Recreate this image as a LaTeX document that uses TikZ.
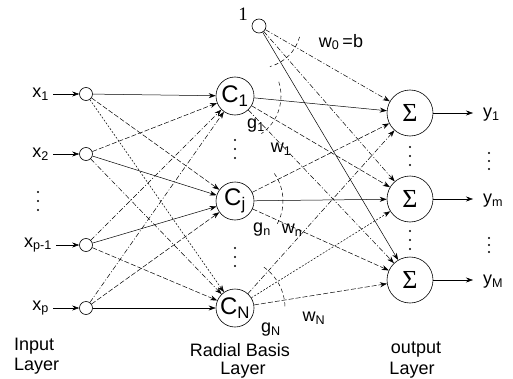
\documentclass[tikz,border=0pt]{standalone}
\usepackage{fontspec}
\setmainfont{Liberation Sans}
\newfontfamily\symfont{Liberation Serif}
\usetikzlibrary{arrows.meta}
\newcommand{\sbs}[1]{\textsubscript{#1}}
\begin{document}
\begin{tikzpicture}[x=1pt,y=1pt,
  font=\fontsize{18}{20}\selectfont,
  inp/.style={circle,draw,line width=0.6pt,inner sep=0pt,minimum size=13pt},
  rbf/.style={circle,draw,line width=0.6pt,inner sep=0pt,minimum size=38pt,font=\fontsize{24}{26}\selectfont},
  outn/.style={circle,draw,line width=0.6pt,inner sep=0pt,minimum size=46pt,font=\symfont\fontsize{26}{28}\selectfont},
  txt/.style={inner sep=0pt},
  captxt/.style={inner sep=0pt,font=\fontsize{18}{20}\selectfont},
  conn/.style={line width=0.5pt,-{Stealth[length=7pt,width=5pt]}},
  ln/.style={conn},
  lds/.style={conn,dash pattern=on 5pt off 2pt},
  ldd/.style={conn,dash pattern=on 5pt off 2pt on 1pt off 2pt},
  ldt/.style={conn,dash pattern=on 2pt off 1.5pt},
  arcst/.style={line width=0.5pt,dash pattern=on 4pt off 3pt},
  dotmark/.style={circle,fill,inner sep=0pt,minimum size=2.4pt}
]
\useasboundingbox (0,0) rectangle (513,378);

% input layer
\node[inp] (in1) at (86,284) {};
\node[inp] (in2) at (86,224) {};
\node[inp] (in3) at (86,133) {};
\node[inp] (in4) at (86,70) {};
\node[txt,anchor=east] (x1) at (49,284) {x\sbs{1}};
\node[txt,anchor=east] (x2) at (49,224) {x\sbs{2}};
\node[txt,anchor=east] (x3) at (52,133) {x\sbs{p-1}};
\node[txt,anchor=east] (x4) at (49,70) {x\sbs{p}};
\foreach \i in {1,2,3,4}{
  \draw[ln] ([xshift=4pt]x\i.east) -- (in\i.west);
}
\node[dotmark] (id1) at (38,186) {};
\node[dotmark] (id2) at (38,177) {};
\node[dotmark] (id3) at (38,168) {};

% radial basis layer
\node[rbf] (C1) at (235,282) {C\sbs{1}};
\node[rbf] (Cj) at (235,177) {C\sbs{j}};
\node[rbf] (CN) at (235,70) {C\sbs{N}};
\node[dotmark] (cd1) at (235,238) {};
\node[dotmark] (cd2) at (235,229) {};
\node[dotmark] (cd3) at (235,220) {};
\node[dotmark] (cd4) at (235,130) {};
\node[dotmark] (cd5) at (235,121) {};
\node[dotmark] (cd6) at (235,112) {};

% bias
\node[inp,minimum size=14pt] (bias) at (259,352) {};
\node[txt,font=\symfont\fontsize{19}{21}\selectfont] (one) at (243,364) {1};

% output layer
\node[outn] (S1) at (410,265) {Σ};
\node[outn] (Sm) at (410,179) {Σ};
\node[outn] (SM) at (410,98) {Σ};
\node[dotmark] (sd1) at (410,231) {};
\node[dotmark] (sd2) at (410,222) {};
\node[dotmark] (sd3) at (410,213) {};
\node[dotmark] (sd4) at (410,147) {};
\node[dotmark] (sd5) at (410,138) {};
\node[dotmark] (sd6) at (410,129) {};

\coordinate (e1) at (473,265);
\coordinate (e2) at (473,179);
\coordinate (e3) at (473,98);
\draw[ln] (S1.east) -- (e1);
\draw[ln] (Sm.east) -- (e2);
\draw[ln] (SM.east) -- (e3);
\node[txt,anchor=west] (y1) at (483,263) {y\sbs{1}};
\node[txt,anchor=west] (ym) at (483,177) {y\sbs{m}};
\node[txt,anchor=west] (yM) at (483,96) {y\sbs{M}};
\node[dotmark] (yd1) at (489,225) {};
\node[dotmark] (yd2) at (489,217) {};
\node[dotmark] (yd3) at (489,209) {};
\node[dotmark] (yd4) at (489,140) {};
\node[dotmark] (yd5) at (489,133) {};
\node[dotmark] (yd6) at (489,126) {};

% input -> RBF
\draw[ln]  (in1) -- (C1);
\draw[lds] (in1) -- (Cj);
\draw[ldt] (in1) -- (CN);
\draw[lds] (in2) -- (C1);
\draw[ln]  (in2) -- (Cj);
\draw[ldd] (in2) -- (CN);
\draw[ldd] (in3) -- (C1);
\draw[ln]  (in3) -- (Cj);
\draw[lds] (in3) -- (CN);
\draw[ldd] (in4) -- (C1);
\draw[lds] (in4) -- (Cj);
\draw[ln]  (in4) -- (CN);

% RBF -> output
\draw[ln]  (C1) -- (S1);
\draw[lds] (C1) -- (Sm);
\draw[ldd] (C1) -- (SM);
\draw[lds] (Cj) -- (S1);
\draw[ln]  (Cj) -- (Sm);
\draw[lds] (Cj) -- (SM);
\draw[ldd] (CN) -- (S1);
\draw[ldt] (CN) -- (Sm);
\draw[lds] (CN) -- (SM);
\draw[ldd] (bias) -- (S1);
\draw[ldd] (bias) -- (Sm);
\draw[ln]  (bias) -- (SM);

% weight arcs
\draw[arcst] ([shift={(-15:42)}]bias.center) arc[start angle=-15,end angle=-75,radius=42];
\draw[arcst] ([shift={(18:46)}]C1.center) arc[start angle=18,end angle=-55,radius=46];
\draw[arcst] ([shift={(35:48)}]Cj.center) arc[start angle=35,end angle=-30,radius=48];
\draw[arcst] ([shift={(2:50)}]CN.center) arc[start angle=2,end angle=58,radius=50];

% weight labels
\node[txt] (g1) at (256,252) {g\sbs{1}};
\node[txt] (w1) at (281,229) {w\sbs{1}};
\node[txt] (gn) at (262,148) {g\sbs{n}};
\node[txt] (wn) at (292,148) {w\sbs{n}};
\node[txt] (gN) at (271,48) {g\sbs{N}};
\node[txt] (wN) at (314,60) {w\sbs{N}};
\node[txt] (w0) at (341,336) {w\sbs{0}\,=b};

% layer captions
\node[captxt,anchor=west] (il1) at (14,32) {Input};
\node[captxt,anchor=west] (il2) at (14,12) {Layer};
\node[captxt] (rl1) at (240,28) {Radial Basis};
\node[captxt] (rl2) at (243,8) {Layer};
\node[captxt] (ol1) at (416,28) {output};
\node[captxt] (ol2) at (412,8) {Layer};
\end{tikzpicture}
\end{document}
